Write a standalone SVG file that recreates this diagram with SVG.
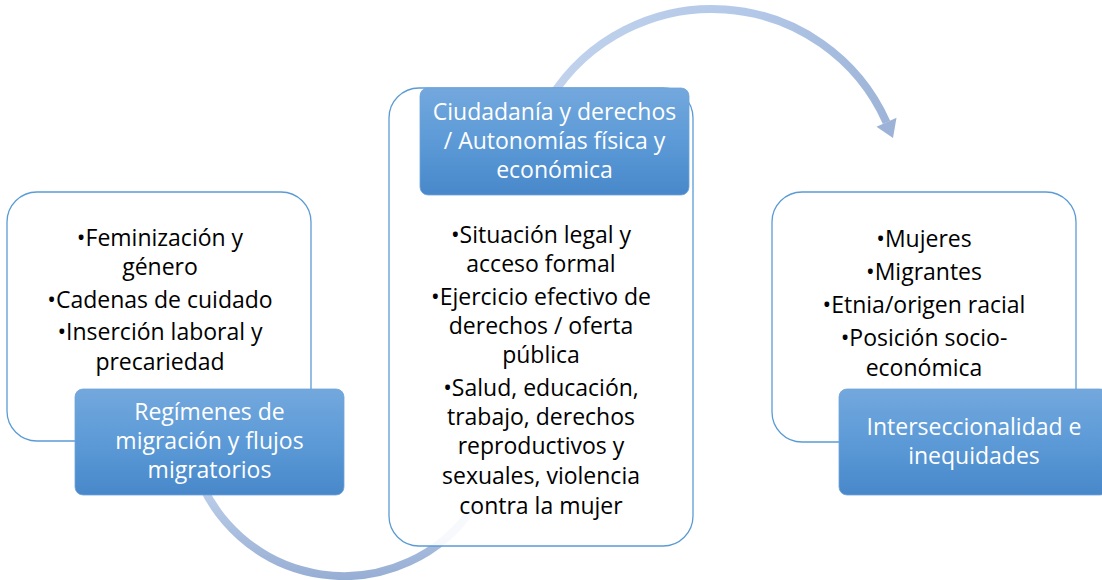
<svg xmlns="http://www.w3.org/2000/svg" width="1102" height="580" viewBox="0 0 1102 580">
<defs>
<linearGradient id="lbl" x1="0" y1="0" x2="0" y2="1">
<stop offset="0" stop-color="#73A8DD"/>
<stop offset="0.5" stop-color="#5C9AD7"/>
<stop offset="1" stop-color="#4888CA"/>
</linearGradient>
<linearGradient id="topArc" gradientUnits="userSpaceOnUse" x1="550" y1="0" x2="895" y2="0">
<stop offset="0" stop-color="#C0D2EC"/>
<stop offset="0.6" stop-color="#B3C8E8"/>
<stop offset="1" stop-color="#9CB3D7"/>
</linearGradient>
<linearGradient id="botArc" gradientUnits="userSpaceOnUse" x1="0" y1="470" x2="0" y2="580">
<stop offset="0" stop-color="#C3D4ED"/>
<stop offset="1" stop-color="#97AED4"/>
</linearGradient>
<style>
.box{fill:#FFFFFF;stroke:#5B9BD5;stroke-width:1.3}
.mid{fill:#FFFFFF;fill-opacity:0.9;stroke:#5B9BD5;stroke-width:1.3}
.lbl{fill:url(#lbl);stroke:#6FA3D9;stroke-width:0.8}
.body{font-family:"Open Sans",Lato,"Liberation Sans",sans-serif;font-size:23px;fill:#000000;text-anchor:middle}
.lt{font-family:"Open Sans",Lato,"Liberation Sans",sans-serif;font-size:23px;fill:#FFFFFF;text-anchor:middle}
.arc{fill:none;stroke-width:8}
</style>
</defs>
<rect width="1102" height="580" fill="#FFFFFF"/>
<g id="connectors">
<path class="arc" stroke="url(#botArc)" d="M193.3,460.4 A156,156 0 0 0 476.3,502.7"/>
<path class="arc" stroke="url(#topArc)" d="M550,98.8 A191,191 0 0 1 886.5,122.3"/>
<polygon points="896.5,117.8 876.5,126.8 893,138" fill="#9CB3D7"/>
</g>
<g id="node-regimenes">
<rect class="box" x="7" y="192" width="304" height="249" rx="30" ry="30"/>
<text class="body"><tspan x="160" y="246">•Feminización y</tspan><tspan x="160" y="275">género</tspan><tspan x="160" y="308">•Cadenas de cuidado</tspan><tspan x="160" y="340">•Inserción laboral y</tspan><tspan x="160" y="369.5">precariedad</tspan></text>
<rect class="lbl" x="75" y="389" width="269" height="106" rx="8" ry="8"/>
<text class="lt"><tspan x="209.5" y="420">Regímenes de</tspan><tspan x="209.5" y="449">migración y flujos</tspan><tspan x="209.5" y="478">migratorios</tspan></text>
</g>
<g id="node-ciudadania">
<rect class="mid" x="389" y="88" width="304" height="458" rx="30" ry="30"/>
<rect class="lbl" x="420" y="88" width="269" height="107" rx="8" ry="8"/>
<text class="lt"><tspan x="554.5" y="120">Ciudadanía y derechos</tspan><tspan x="554.5" y="149">/ Autonomías física y</tspan><tspan x="554.5" y="178">económica</tspan></text>
<text class="body"><tspan x="541" y="243">•Situación legal y</tspan><tspan x="541" y="272">acceso formal</tspan><tspan x="541" y="305">•Ejercicio efectivo de</tspan><tspan x="541" y="334">derechos / oferta</tspan><tspan x="541" y="363">pública</tspan><tspan x="541" y="396">•Salud, educación,</tspan><tspan x="541" y="425">trabajo, derechos</tspan><tspan x="541" y="454">reproductivos y</tspan><tspan x="541" y="484">sexuales, violencia</tspan><tspan x="541" y="514">contra la mujer</tspan></text>
</g>
<g id="node-interseccionalidad">
<rect class="box" x="772" y="192" width="304" height="250" rx="30" ry="30"/>
<text class="body"><tspan x="924" y="247">•Mujeres</tspan><tspan x="924" y="280">•Migrantes</tspan><tspan x="924" y="313">•Etnia/origen racial</tspan><tspan x="924" y="346">•Posición socio-</tspan><tspan x="924" y="376">económica</tspan></text>
<rect class="lbl" x="839" y="389" width="269" height="106" rx="8" ry="8"/>
<text class="lt"><tspan x="974" y="435">Interseccionalidad e</tspan><tspan x="974" y="464">inequidades</tspan></text>
</g>
</svg>
